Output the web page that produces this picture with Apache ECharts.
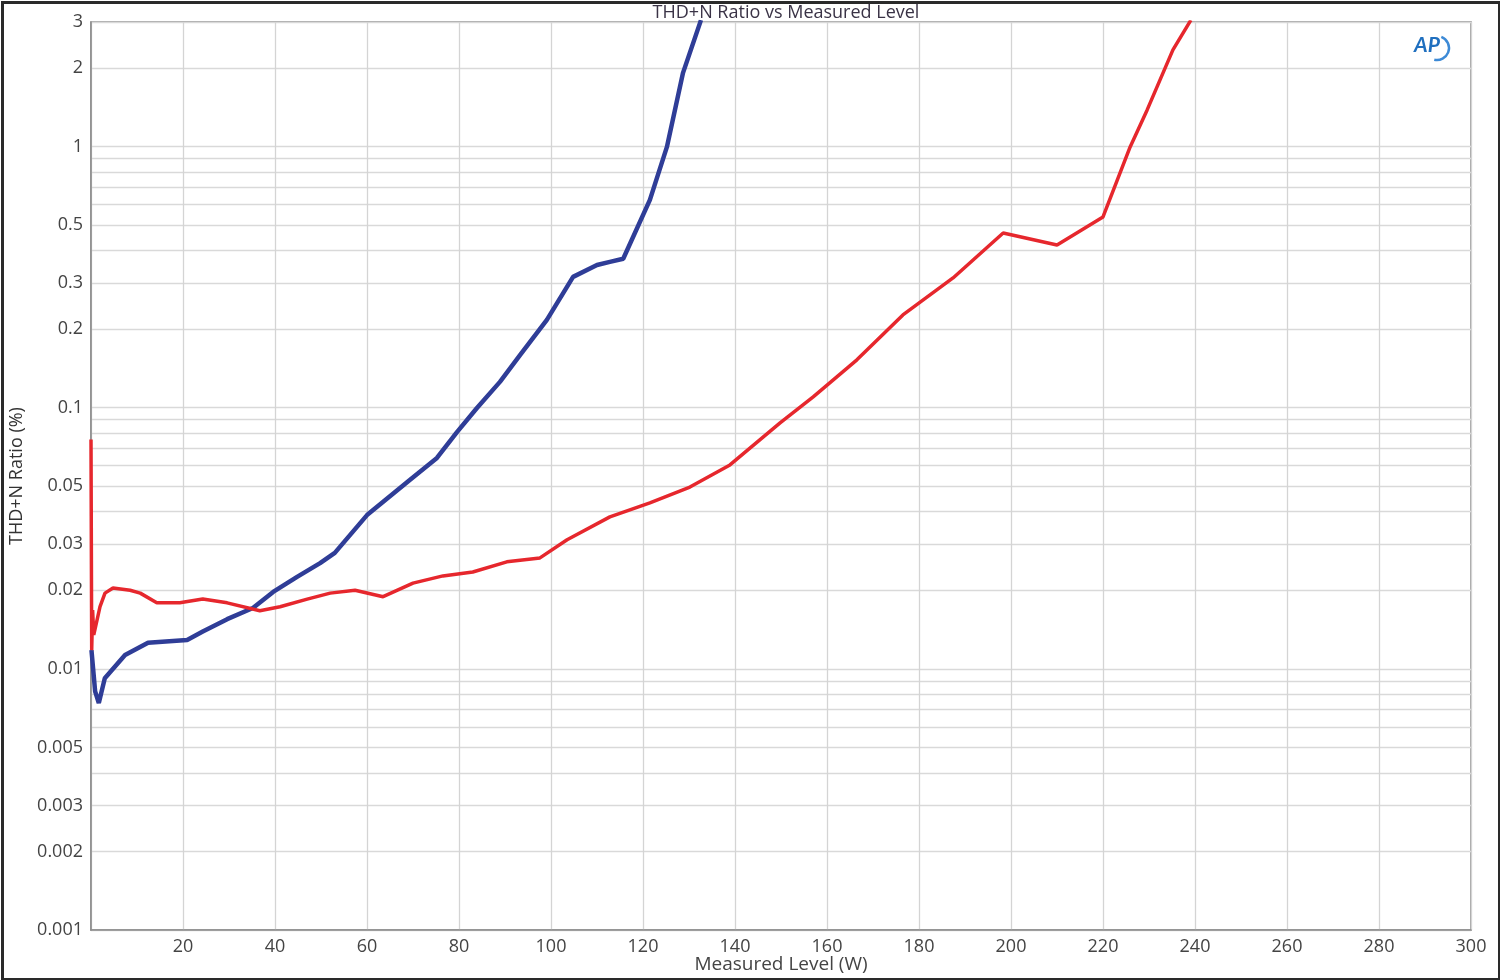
<!DOCTYPE html>
<html>
<head>
<meta charset="utf-8">
<script src="https://cdn.jsdelivr.net/npm/echarts@6/dist/echarts.min.js"></script>
<style>
html,body{margin:0;padding:0;background:#fff;}
#chart{width:1500px;height:980px;}
</style>
</head>
<body>
<div id="chart"></div>
<script>
// ---- data ----
const blueX = [0.1, 0.9, 1.7, 3.0, 7.4, 12.4, 20.9, 24.3, 29.6, 35.2, 39.6, 44.8, 49.8, 53.0, 60.0, 69.3, 75.2, 79.6, 83.9, 88.9, 93.3, 99.1, 104.8, 110.0, 112.8, 115.7, 121.5, 125.2, 128.7, 132.6];
const blueY = [0.0118, 0.0082, 0.0074, 0.0092, 0.0113, 0.0126, 0.0129, 0.0139, 0.0155, 0.0171, 0.0197, 0.0225, 0.0254, 0.0278, 0.0388, 0.0529, 0.0642, 0.0808, 0.0998, 0.1256, 0.1594, 0.217, 0.317, 0.352, 0.362, 0.372, 0.625, 0.997, 1.916, 3.05];
const redX = [0.0, 0.15, 0.35, 0.6, 0.9, 1.96, 3.04, 4.78, 8.5, 10.7, 14.3, 19.3, 24.3, 29.6, 36.7, 41.1, 47.0, 52.0, 57.4, 63.5, 70.0, 76.5, 83.0, 90.4, 97.6, 103.5, 112.8, 121.5, 130.2, 138.9, 149.8, 157.0, 166.5, 176.5, 187.4, 198.3, 210.0, 220.0, 225.9, 229.6, 235.2, 239.1];
const redY = [0.0756, 0.0118, 0.0168, 0.0135, 0.0135, 0.0173, 0.0195, 0.0204, 0.0200, 0.0195, 0.0179, 0.0179, 0.0185, 0.0179, 0.0167, 0.0173, 0.0185, 0.0195, 0.0200, 0.0189, 0.0213, 0.0227, 0.0235, 0.0257, 0.0266, 0.0312, 0.0382, 0.0432, 0.0497, 0.0604, 0.0875, 0.110, 0.1525, 0.2267, 0.314, 0.467, 0.420, 0.538, 0.997, 1.382, 2.346, 3.05];
const yLabelValues = [0.001, 0.002, 0.003, 0.005, 0.01, 0.02, 0.03, 0.05, 0.1, 0.2, 0.3, 0.5, 1, 2, 3];
const yGridValues = [0.001,0.002,0.003,0.004,0.005,0.006,0.007,0.008,0.009,
  0.01,0.02,0.03,0.04,0.05,0.06,0.07,0.08,0.09,
  0.1,0.2,0.3,0.4,0.5,0.6,0.7,0.8,0.9,
  1,2,3];
const titleText = 'THD+N Ratio vs Measured Level';
const xName = 'Measured Level (W)';
const yName = 'THD+N Ratio (%)';

const zip = (xs, ys) => xs.map((x, i) => [x, ys[i]]);
const fmt = v => String(parseFloat(Number(v).toPrecision(6)));

const chart = echarts.init(document.getElementById('chart'), null, {renderer: 'canvas'});
const font = 'Open Sans, Noto Sans, sans-serif';
chart.setOption({
  backgroundColor: '#fff',
  animation: false,
  title: {
    text: titleText, left: 781, top: -1, textAlign: 'center',
    textStyle: {fontSize: 18, fontWeight: 'normal', color: '#3a3346', fontFamily: font}
  },
  grid: {left: 91, right: 29, top: 22, bottom: 50, show: true, borderColor: '#8a8a8a', borderWidth: 1.5,
    containLabel: false, outerBoundsMode: 'none'},
  xAxis: {
    type: 'value', min: 0, max: 300, interval: 20,
    axisLine: {show: true, lineStyle: {color: '#8a8a8a', width: 1.5}},
    axisTick: {show: false},
    axisLabel: {fontSize: 18, color: '#444', fontFamily: font, margin: 8,
      formatter: v => (v === 0 ? '' : String(v))},
    splitLine: {show: true, lineStyle: {color: '#d4d4d4', width: 1.3}}
  },
  yAxis: {
    type: 'log', logBase: 10, min: 0.001, max: 3,
    name: yName, nameLocation: 'middle', nameGap: 64, nameRotate: 90,
    nameTextStyle: {fontSize: 18, color: '#333', fontFamily: font},
    axisLine: {show: true, lineStyle: {color: '#8a8a8a', width: 1.5}},
    axisTick: {show: false, customValues: yGridValues},
    axisLabel: {fontSize: 18, color: '#444', fontFamily: font, margin: 8,
      customValues: yLabelValues, formatter: v => fmt(v)},
    splitLine: {show: true, lineStyle: {color: '#d9d9d9', width: 1.3}}
  },
  series: [
    {type: 'line', data: zip(blueX, blueY), showSymbol: false, symbol: 'none',
      lineStyle: {color: '#2f3d97', width: 4.5}, itemStyle: {color: '#2f3d97'}, clip: true, z: 3},
    {type: 'line', data: zip(redX, redY), showSymbol: false, symbol: 'none',
      lineStyle: {color: '#e6272d', width: 3.5}, itemStyle: {color: '#e6272d'}, clip: true, z: 4}
  ],
  graphic: [
    {type: 'rect', left: 0, top: 0, shape: {x: 1, y: 1, width: 1497, height: 977},
      style: {fill: 'none', stroke: '#2a2a2a', lineWidth: 3}, silent: true},
    {type: 'text', x: 781, y: 965,
      style: {text: xName, font: '19px Open Sans, Noto Sans, sans-serif', fill: '#444',
        textAlign: 'center', textVerticalAlign: 'middle'}},
    {type: 'text', left: 1414, top: 35,
      style: {text: 'AP', font: 'italic bold 21px Lato, sans-serif', fill: '#1f6fbf'}},
    {type: 'arc', shape: {cx: 1437, cy: 48, r: 12, startAngle: -1.2, endAngle: 1.8},
      style: {stroke: '#3d8ad6', lineWidth: 2.5, fill: 'none'}}
  ]
});
</script>
</body>
</html>
